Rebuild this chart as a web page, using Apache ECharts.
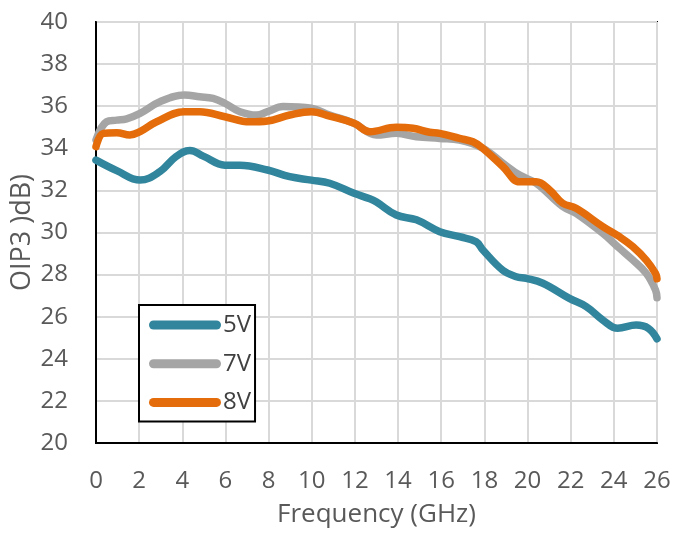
<!DOCTYPE html>
<html>
<head>
<meta charset="utf-8">
<script src="https://cdn.jsdelivr.net/npm/echarts@6/dist/echarts.min.js"></script>
<style>html,body{margin:0;padding:0;background:#fff}#c{width:674px;height:533px}</style>
</head>
<body>
<div id="c"></div>
<script>
var xTicks = [0,2,4,6,8,10,12,14,16,18,20,22,24,26];
var yTicks = [20,22,24,26,28,30,32,34,36,38,40];

var freq5 = [0,0.96,2.04,2.96,3.7,4.35,4.97,5.97,6.67,7.95,8.98,9.98,10.83,11.96,12.69,13.0,13.92,14.85,15.93,16.85,17.62,17.93,18.86,19.48,19.94,20.71,21.94,22.72,23.49,24.18,25.03,25.6,26];
var v5 = [33.44,32.94,32.49,32.89,33.6,33.89,33.63,33.2,33.2,32.97,32.65,32.49,32.34,31.86,31.6,31.45,30.83,30.6,30.04,29.8,29.56,29.17,28.2,27.9,27.82,27.59,26.87,26.48,25.84,25.45,25.6,25.45,24.95];

var freq7 = [0,0.49,0.96,1.42,2.04,2.96,4.1,4.81,5.43,5.97,6.67,7.44,7.95,8.67,9.98,10.83,11.96,13.0,13.92,14.85,15.93,16.85,17.93,18.86,19.63,20.4,21.63,22.25,23.49,24.26,24.88,25.5,25.93,26];
var v7 = [34.4,35.26,35.34,35.4,35.66,36.21,36.53,36.45,36.37,36.14,35.74,35.58,35.74,35.98,35.9,35.58,35.19,34.63,34.71,34.55,34.47,34.39,34.0,33.29,32.73,32.34,31.23,30.91,29.96,29.25,28.69,28.06,27.27,26.9];

var freq8 = [0,0.34,0.96,1.57,2.04,2.81,4.1,4.81,5.97,7.13,7.95,8.98,9.98,10.83,11.96,12.69,13.92,14.69,15.46,15.93,16.85,17.47,17.93,18.86,19.63,20.4,21.02,21.63,22.25,23.49,24.26,24.88,25.5,25.93,26];
var v8 = [34.08,34.71,34.74,34.63,34.79,35.26,35.74,35.74,35.5,35.26,35.3,35.58,35.74,35.53,35.19,34.79,35.0,34.95,34.76,34.71,34.47,34.31,34.0,33.13,32.41,32.41,32.02,31.39,31.15,30.28,29.8,29.33,28.69,28.06,27.8];

var names = ['5V','7V','8V'];
var colors = ['#31859C','#A5A5A5','#E46C0A'];

function pairs(xs, ys){ return xs.map(function(x,i){return [x, ys[i]];}); }
var seriesData = [pairs(freq5,v5), pairs(freq7,v7), pairs(freq8,v8)];
var drawOrder = [1,2,0];

var FONT = 'Open Sans';
var chart = echarts.init(document.getElementById('c'), null, {renderer:'canvas'});
var capsule = 'path://M4.5,0 L67.5,0 A4.5,4.5 0 0 1 67.5,9 L4.5,9 A4.5,4.5 0 0 1 4.5,0 Z';

chart.setOption({
  animation:false,
  backgroundColor:'#fff',
  grid:{left:96, right:17, top:22, bottom:90, show:true, borderColor:'#000', borderWidth:2, backgroundColor:'transparent', containLabel:false, outerBoundsMode:'none'},
  xAxis:{
    type:'value', min:0, max:26, interval:2,
    name:'Frequency (GHz)', nameLocation:'middle', nameGap:59,
    nameTextStyle:{fontFamily:FONT, fontSize:26, color:'#595959'},
    axisLine:{show:true, lineStyle:{color:'#000', width:2}},
    axisTick:{show:false},
    axisLabel:{fontFamily:FONT, fontSize:24, color:'#595959', margin:26},
    splitLine:{show:true, lineStyle:{color:'#D9D9D9', width:2}}
  },
  yAxis:{
    type:'value', min:20, max:40, interval:2,
    name:'OIP3 )dB)', nameLocation:'middle', nameGap:60, nameMoveOverlap:false,
    nameTextStyle:{fontFamily:FONT, fontSize:27, color:'#595959'},
    axisLine:{show:true, lineStyle:{color:'#000', width:2}},
    axisTick:{show:false},
    axisLabel:{fontFamily:FONT, fontSize:24, color:'#595959', margin:28},
    splitLine:{show:true, lineStyle:{color:'#D9D9D9', width:2}}
  },
  legend:{
    orient:'vertical', left:139, top:305,
    data:names.map(function(n){return {name:n, icon:capsule};}),
    itemWidth:72, itemHeight:9, itemGap:14.7,
    padding:[8,4,7,10],
    borderColor:'#000', borderWidth:2, backgroundColor:'#fff',
    textStyle:{fontFamily:FONT, fontSize:24, lineHeight:24, color:'#404040', padding:[0,0,0,-3]}
  },
  series: drawOrder.map(function(i){
    return {
      name:names[i], type:'line', data:seriesData[i],
      smooth:0.4, showSymbol:false, symbol:'none', z:3,
      lineStyle:{color:colors[i], width:7.5, cap:'round', join:'round'},
      itemStyle:{color:colors[i]}
    };
  })
});
</script>
</body>
</html>
